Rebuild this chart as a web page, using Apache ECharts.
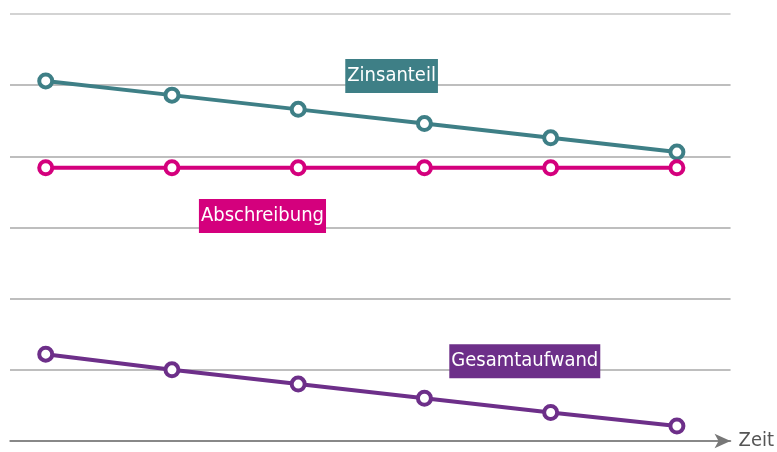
<!DOCTYPE html>
<html lang="de">
<head>
<meta charset="UTF-8">
<title>Zinsanteil, Abschreibung, Gesamtaufwand</title>
<script src="https://cdn.jsdelivr.net/npm/echarts@6/dist/echarts.min.js"></script>
<style>
  html, body { margin: 0; padding: 0; background: #fff; }
  #chart { width: 777px; height: 452px; }
</style>
</head>
<body>
<div id="chart"></div>
<script>
// Zeitpunkte (x-Positionen als Index)
var zeitpunkte = [0, 1, 2, 3, 4, 5];
var zinsanteil = [5.06, 4.86, 4.66, 4.46, 4.26, 4.06];
var abschreibung = [3.84, 3.84, 3.84, 3.84, 3.84, 3.84];
var gesamtaufwand = [1.22, 1.0, 0.8, 0.6, 0.4, 0.21];

// Beschriftungen: [x, y] im Datenraum
var labelZins = [2.74, 5.13];
var labelAbschr = [1.717, 3.16];
var labelGesamt = [3.795, 1.12];

var font = '"Liberation Sans Narrow", "DejaVu Sans Condensed", Roboto, sans-serif';

function pairs(vals) {
    return zeitpunkte.map(function (x, i) { return [x, vals[i]]; });
}

function tag(name, coord, color) {
    return {
        symbol: 'circle',
        symbolSize: 0,
        data: [{ coord: coord, value: name }],
        label: {
            show: true,
            position: 'inside',
            formatter: name,
            color: '#fff',
            fontFamily: font,
            fontSize: 20,
            backgroundColor: color,
            padding: [8, 2, 6, 2]
        }
    };
}

function linie(name, vals, color, coord) {
    return {
        name: name,
        type: 'line',
        data: pairs(vals),
        symbol: 'circle',
        symbolSize: 13,
        showSymbol: true,
        lineStyle: { color: color, width: 4 },
        itemStyle: { color: '#fff', borderColor: color, borderWidth: 4 },
        emphasis: { disabled: true },
        markPoint: tag(name, coord, color),
        z: 3
    };
}

var chart = echarts.init(document.getElementById('chart'));
var option = {
    animation: false,
    grid: { left: 10, right: 42, top: 14, bottom: 11 },
    xAxis: {
        type: 'value',
        min: -0.283,
        max: 5.425,
        axisLabel: { show: false },
        axisTick: { show: false },
        splitLine: { show: false },
        axisLine: {
            show: true,
            symbol: ['none', 'arrow'],
            symbolSize: [11, 16],
            lineStyle: { color: '#777', width: 1.5 }
        },
        name: 'Zeit',
        nameLocation: 'end',
        nameGap: 8,
        nameTextStyle: { color: '#555', fontFamily: font, fontSize: 20, verticalAlign: 'middle' }
    },
    yAxis: {
        type: 'value',
        min: 0,
        max: 6,
        interval: 1,
        axisLabel: { show: false },
        axisTick: { show: false },
        axisLine: { show: false },
        splitLine: {
            lineStyle: {
                color: ['#a8a8a8', '#a8a8a8', '#a8a8a8', '#a8a8a8', '#a8a8a8', '#a8a8a8', '#c4c4c4'],
                width: 1.5
            }
        }
    },
    series: [
        linie('Zinsanteil', zinsanteil, '#3e7f86', labelZins),
        linie('Abschreibung', abschreibung, '#d4007d', labelAbschr),
        linie('Gesamtaufwand', gesamtaufwand, '#6d2f89', labelGesamt)
    ]
};
chart.setOption(option);
</script>
</body>
</html>
